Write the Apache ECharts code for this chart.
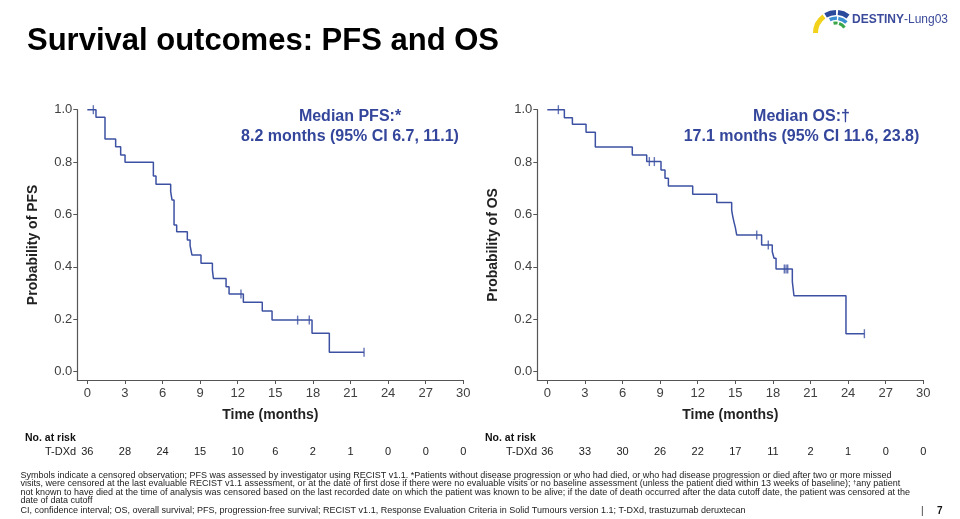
<!DOCTYPE html>
<html>
<head>
<meta charset="utf-8">
<script src="https://cdn.jsdelivr.net/npm/echarts@6/dist/echarts.min.js"></script>
<style>
html,body{margin:0;padding:0;background:#fff;}
#chart{width:960px;height:519px;}
</style>
</head>
<body>
<div id="chart"></div>
<script>
// ---- Data ----
const xTicks = [0, 3, 6, 9, 12, 15, 18, 21, 24, 27, 30];
const yTicks = [0, 0.2, 0.4, 0.6, 0.8, 1.0];
const pfsAtRisk = [36, 28, 24, 15, 10, 6, 2, 1, 0, 0, 0];
const osAtRisk = [36, 33, 30, 26, 22, 17, 11, 2, 1, 0, 0];

const pfsTime = [0, 0.69, 1.41, 2.26, 2.66, 3.01, 5.27, 5.48, 6.65, 6.76, 6.92, 7.13, 7.98, 8.2, 8.35, 9.07, 9.98, 10.06, 11.07, 11.31, 12.45, 13.96, 14.74, 17.93, 19.31, 22.08];
const pfsSurv = [1.0, 0.971, 0.888, 0.859, 0.827, 0.799, 0.747, 0.715, 0.687, 0.655, 0.56, 0.534, 0.503, 0.481, 0.445, 0.414, 0.388, 0.356, 0.324, 0.297, 0.265, 0.232, 0.197, 0.147, 0.074, 0.074];
const pfsCensor = [0.48, 12.26, 16.78, 17.71, 22.08];

const osTime = [0, 1.36, 2.0, 3.09, 3.83, 6.78, 7.93, 9.07, 9.39, 9.66, 11.6, 13.52, 14.71, 14.79, 14.9, 15.0, 15.11, 17.1, 17.95, 18.09, 18.25, 19.55, 19.68, 23.83, 25.3];
const osSurv = [1.0, 0.969, 0.944, 0.914, 0.858, 0.827, 0.802, 0.77, 0.738, 0.709, 0.677, 0.646, 0.617, 0.594, 0.57, 0.551, 0.522, 0.484, 0.458, 0.433, 0.392, 0.344, 0.29, 0.145, 0.145];
const osCensor = [0.88, 8.14, 8.54, 16.71, 17.63, 18.91, 19.05, 19.18, 25.3];

const footLines = [
  'Symbols indicate a censored observation; PFS was assessed by investigator using RECIST v1.1. *Patients without disease progression or who had died, or who had disease progression or died after two or more missed',
  'visits, were censored at the last evaluable RECIST v1.1 assessment, or at the date of first dose if there were no evaluable visits or no baseline assessment (unless the patient died within 13 weeks of baseline); {s|†}any patient',
  'not known to have died at the time of analysis was censored based on the last recorded date on which the patient was known to be alive; if the date of death occurred after the data cutoff date, the patient was censored at the',
  'date of data cutoff',
  'CI, confidence interval; OS, overall survival; PFS, progression-free survival; RECIST v1.1, Response Evaluation Criteria in Solid Tumours version 1.1; T-DXd, trastuzumab deruxtecan'
];

// ---- Helpers ----
const BLUE = '#3d51a3';
const TXTBLUE = '#34469b';
const AXIS = '#555';
const FONT = '"Liberation Sans", Arial, sans-serif';

function pairs(t, s) { return t.map((v, i) => [v, s[i]]); }
function survAt(t, s, x) {
  let v = s[0];
  for (let i = 0; i < t.length; i++) { if (t[i] <= x) v = s[i]; }
  return v;
}
function censorPts(t, s, c) { return c.map(x => [x, survAt(t, s, x)]); }

function mainX(gi, riskArr) {
  return [{
    type: 'value', gridIndex: gi, min: -0.8, max: 30, position: 'bottom',
    name: 'Time (months)', nameLocation: 'middle', nameGap: 28,
    nameTextStyle: { fontFamily: FONT, fontWeight: 'bold', fontSize: 14, color: '#222' },
    axisLine: { onZero: false, lineStyle: { color: AXIS, width: 1.2 } },
    axisTick: { show: true, length: 4, customValues: xTicks, lineStyle: { color: AXIS } },
    axisLabel: { customValues: xTicks, fontFamily: FONT, fontSize: 13, color: '#404040', margin: 7 },
    splitLine: { show: false }
  }, {
    type: 'value', gridIndex: gi, min: -0.8, max: 30, position: 'bottom',
    axisLine: { show: false, onZero: false }, axisTick: { show: false },
    axisLabel: {
      customValues: xTicks, fontFamily: FONT, fontSize: 11, color: '#222', margin: 66,
      formatter: v => String(riskArr[Math.round(v / 3)])
    },
    splitLine: { show: false }
  }];
}
function mainY(gi, name) {
  return {
    type: 'value', gridIndex: gi, min: -0.0317, max: 1.0,
    name: name, nameLocation: 'middle', nameGap: 37,
    nameTextStyle: { fontFamily: FONT, fontWeight: 'bold', fontSize: 14, color: '#222' },
    axisLine: { show: true, onZero: false, lineStyle: { color: AXIS, width: 1.2 } },
    axisTick: { show: true, length: 4, customValues: yTicks, lineStyle: { color: AXIS } },
    axisLabel: { customValues: yTicks, fontFamily: FONT, fontSize: 13, color: '#404040', margin: 5,
      formatter: v => v.toFixed(1) },
    splitLine: { show: false }
  };
}

const chart = echarts.init(document.getElementById('chart'), null, { renderer: 'canvas' });

const LX = 836, LY = 33;
const graphics = [
  { type: 'text', left: 27, top: 26, style: { text: 'Survival outcomes: PFS and OS', font: 'bold 31px ' + FONT, fill: '#000' } },
  // median labels
  { type: 'text', x: 350, y: 117, style: { text: 'Median PFS:*', font: 'bold 16px ' + FONT, fill: TXTBLUE, align: 'center', verticalAlign: 'middle' } },
  { type: 'text', x: 350, y: 137, style: { text: '8.2 months (95% CI 6.7, 11.1)', font: 'bold 16px ' + FONT, fill: TXTBLUE, align: 'center', verticalAlign: 'middle' } },
  { type: 'text', x: 801.5, y: 117, style: { text: 'Median OS:†', font: 'bold 16px ' + FONT, fill: TXTBLUE, align: 'center', verticalAlign: 'middle' } },
  { type: 'text', x: 801.5, y: 137, style: { text: '17.1 months (95% CI 11.6, 23.8)', font: 'bold 16px ' + FONT, fill: TXTBLUE, align: 'center', verticalAlign: 'middle' } },
  // at-risk headers
  { type: 'text', x: 25, y: 438, style: { text: 'No. at risk', font: 'bold 10.5px ' + FONT, fill: '#111', verticalAlign: 'middle' } },
  { type: 'text', x: 45, y: 452, style: { text: 'T-DXd', font: '11px ' + FONT, fill: '#222', verticalAlign: 'middle' } },
  { type: 'text', x: 485, y: 438, style: { text: 'No. at risk', font: 'bold 10.5px ' + FONT, fill: '#111', verticalAlign: 'middle' } },
  { type: 'text', x: 506, y: 452, style: { text: 'T-DXd', font: '11px ' + FONT, fill: '#222', verticalAlign: 'middle' } },
  // page number
  { type: 'text', x: 921, y: 511, style: { text: '|', font: '10px ' + FONT, fill: '#333', verticalAlign: 'middle' } },
  { type: 'text', x: 937, y: 511, style: { text: '7', font: 'bold 10px ' + FONT, fill: '#111', verticalAlign: 'middle' } },
  // logo
  { type: 'sector', shape: { cx: LX, cy: LY, r0: 18, r: 23, startAngle: Math.PI, endAngle: Math.PI * 1.3, clockwise: true }, style: { fill: '#f2d21b' } },
  { type: 'sector', shape: { cx: LX, cy: LY, r0: 18, r: 23, startAngle: Math.PI * 1.33, endAngle: Math.PI * 1.5, clockwise: true }, style: { fill: '#2a4b9b' } },
  { type: 'sector', shape: { cx: LX, cy: LY, r0: 18, r: 23, startAngle: Math.PI * 1.53, endAngle: Math.PI * 1.7, clockwise: true }, style: { fill: '#2a4b9b' } },
  { type: 'sector', shape: { cx: LX, cy: LY, r0: 13, r: 16.5, startAngle: Math.PI * 1.36, endAngle: Math.PI * 1.52, clockwise: true }, style: { fill: '#3a8fd0' } },
  { type: 'sector', shape: { cx: LX, cy: LY, r0: 13, r: 16.5, startAngle: Math.PI * 1.55, endAngle: Math.PI * 1.75, clockwise: true }, style: { fill: '#3a8fd0' } },
  { type: 'sector', shape: { cx: LX, cy: LY, r0: 8.5, r: 11.5, startAngle: Math.PI * 1.42, endAngle: Math.PI * 1.55, clockwise: true }, style: { fill: '#3aa64a' } },
  { type: 'sector', shape: { cx: LX, cy: LY, r0: 8.5, r: 11.5, startAngle: Math.PI * 1.6, endAngle: Math.PI * 1.82, clockwise: true }, style: { fill: '#3aa64a' } },
  { type: 'text', x: 852, y: 20, style: { text: '{b|DESTINY}{r|-Lung03}', rich: { b: { font: 'bold 12px ' + FONT, fill: '#3b4a9a' }, r: { font: '12px ' + FONT, fill: '#3b4a9a' } }, verticalAlign: 'middle' } }
];
const footY = [475.7, 484, 492.3, 500.6, 510.7];
footLines.forEach((line, i) => {
  graphics.push({ type: 'text', x: 20.5, y: footY[i], style: {
    text: line, font: '9px ' + FONT, fill: '#222', verticalAlign: 'middle',
    rich: { s: { font: '6px ' + FONT, fill: '#222', verticalAlign: 'top', padding: [0, 0, 3, 0] } } } });
});

const option = {
  animation: false,
  backgroundColor: '#fff',
  grid: [
    { left: 77.3, top: 109.7, width: 386, height: 270.3 },
    { left: 537.3, top: 109.7, width: 386, height: 270.3 }
  ],
  xAxis: [...mainX(0, pfsAtRisk), ...mainX(1, osAtRisk)],
  yAxis: [mainY(0, 'Probability of PFS'), mainY(1, 'Probability of OS')],
  series: [
    { type: 'line', step: 'end', xAxisIndex: 0, yAxisIndex: 0, data: pairs(pfsTime, pfsSurv), showSymbol: false,
      lineStyle: { color: BLUE, width: 1.5 }, itemStyle: { color: BLUE } },
    { type: 'scatter', xAxisIndex: 0, yAxisIndex: 0, data: censorPts(pfsTime, pfsSurv, pfsCensor), symbol: 'rect', symbolSize: [1.4, 9],
      itemStyle: { color: BLUE } },
    { type: 'line', step: 'end', xAxisIndex: 2, yAxisIndex: 1, data: pairs(osTime, osSurv), showSymbol: false,
      lineStyle: { color: BLUE, width: 1.5 }, itemStyle: { color: BLUE } },
    { type: 'scatter', xAxisIndex: 2, yAxisIndex: 1, data: censorPts(osTime, osSurv, osCensor), symbol: 'rect', symbolSize: [1.4, 9],
      itemStyle: { color: BLUE } }
  ],
  graphic: graphics
};
chart.setOption(option);
</script>
</body>
</html>
